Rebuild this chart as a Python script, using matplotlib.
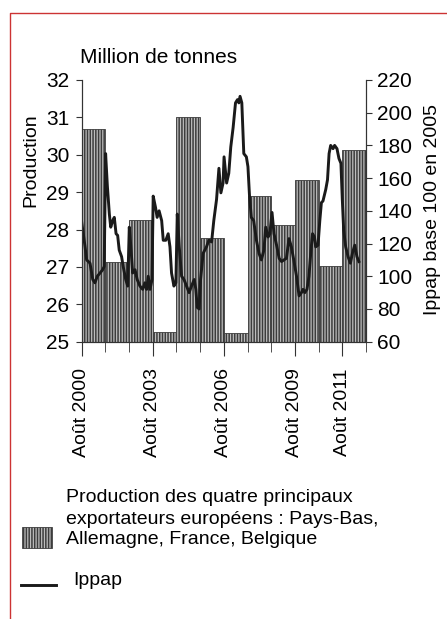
import matplotlib
matplotlib.use("Agg")
from matplotlib import pyplot as plt
from matplotlib.patches import Rectangle
from matplotlib.lines import Line2D

plt.rcParams['font.family'] = ['Liberation Sans', 'DejaVu Sans']
plt.rcParams['hatch.linewidth'] = 1.1

# production (million tonnes), one bar per campaign Aug-Aug, 2000/01 .. 2011/12
production = [30.68, 27.13, 28.26, 25.26, 31.01, 27.78, 25.22, 28.90, 28.12, 29.33, 27.02, 30.14]

# Ippap index (base 100 in 2005), months since Aug 2000
ippap_month = [0, 1.7, 2.5, 4.2, 5.6, 6.7, 7.9, 9.3, 10.6, 11.4, 12.1, 13, 14, 14.7, 15.7, 16.5,
               17.4, 18.2, 19, 20.2, 21, 22.3, 23.3, 24.1, 24.9, 25.8, 27, 28.1, 29.5, 30.9, 32,
               32.9, 33.7, 34.6, 35.6, 36.2, 37.4, 38.2, 39.2, 40.5, 41.3, 42.6, 43.8, 44.7, 45.5,
               46.7, 47.7, 48.4, 49.4, 50.6, 51.8, 53.1, 54.4, 55.6, 57, 57.8, 58.5, 59.5, 60.2,
               61.5, 63.2, 64.4, 65.8, 66.9, 68.3, 69.5, 70.5, 71.6, 72.1, 73.4, 74.5, 75.5, 76.7,
               77.9, 78.9, 79.6, 80.2, 81.1, 82.1, 83.4, 84.2, 85.0, 85.9, 87.1, 88.5, 89.8, 91,
               92.3, 93.2, 94.4, 95.3, 96.4, 97.4, 98.7, 100, 101.2, 102.5, 103.7, 105, 106.2,
               107.4, 108.8, 110.1, 111.3, 112.1, 113, 114.1, 115.1, 116, 116.9, 117.9, 118.5,
               119.7, 120.6, 121.4, 122.2, 123.6, 124.5, 125.3, 126.1, 127.3, 128.1, 129.3, 130.3,
               131.3, 132, 132.7, 133.7, 134.9, 136.1, 137.1, 138.3, 139.4, 140.4]
ippap = [133, 118, 110, 108, 98, 96, 100, 102, 104, 106, 175, 155, 138, 130, 134, 136,
         126, 125, 116, 112, 106, 98, 94, 130, 118, 102, 104, 98, 94, 92, 96,
         92, 100, 92, 98, 149, 142, 136, 140, 134, 122, 122, 126, 118, 102,
         94, 96, 138, 118, 100, 98, 94, 90, 94, 98, 92, 81, 80, 98,
         114, 118, 122, 121, 134, 147, 166, 151, 157, 173, 157, 163, 179, 191,
         206, 208, 206, 210, 206, 175, 173, 167, 149, 136, 134, 122, 114, 110,
         116, 130, 124, 126, 139, 126, 119, 111, 109, 110, 111, 123, 118,
         110, 100, 88, 90, 92, 90, 92, 100, 114, 126, 124, 118,
         119, 134, 145, 146, 153, 159, 175, 180, 178, 180, 178, 172,
         169, 147, 128, 118, 112, 108, 114, 119, 112, 109]

label_months = [0, 36, 72, 108, 132]
label_text = ["Août 2000", "Août 2003", "Août 2006", "Août 2009", "Août 2011"]

legend_lines = ["Production des quatre principaux",
                "exportateurs européens : Pays-Bas,",
                "Allemagne, France, Belgique"]

fig = plt.figure(figsize=(4.47, 6.19), dpi=100)
ax = fig.add_axes([0.1828, 0.448, 0.636, 0.4228])

bar_face = '#bdbdbd'
bar_hatch = '#3c3c3c'

starts = [12 * i for i in range(len(production))]
heights = [p - 25 for p in production]
ax.bar(starts, heights, width=12, bottom=25, align='edge', facecolor=bar_face,
       edgecolor=bar_hatch, hatch='||||||', linewidth=0.6)
ax.set_xlim(0, 144)
ax.set_ylim(25, 32)
ax.set_yticks(range(25, 33))

ax2 = ax.twinx()
ax2.plot(ippap_month, ippap, color='#1a1a1a', linewidth=2.1)
ax2.set_ylim(60, 220)
ax2.set_yticks(range(60, 221, 20))

ax.set_xticks(label_months)
ax.set_xticklabels(label_text, rotation=90, fontsize=14)
ax.set_xticks(range(0, 145, 12), minor=True)
ax.tick_params(axis='x', which='major', length=10, pad=9, color='#333333')
ax.tick_params(axis='x', which='minor', length=7, color='#333333')
ax.tick_params(axis='y', labelsize=15, length=4, pad=5, color='#333333')
ax2.tick_params(axis='y', labelsize=15, length=4, pad=4, color='#333333')

for a in (ax, ax2):
    a.spines['top'].set_visible(False)
    for s in ('left', 'right', 'bottom'):
        a.spines[s].set_color('#333333')
        a.spines[s].set_linewidth(0.8)

fig.text(0.179, 0.907, "Million de tonnes", fontsize=15, va='center', ha='left')
fig.text(0.069, 0.742, "Production", fontsize=14, rotation=90, va='center', ha='center')
fig.text(0.968, 0.661, "Ippap base 100 en 2005", fontsize=14, rotation=90, va='center', ha='center')

# legend
fig.patches.append(Rectangle((0.0486, 0.1147), 0.067, 0.0345, transform=fig.transFigure,
                             facecolor=bar_face, edgecolor=bar_hatch, hatch='||||||',
                             linewidth=0.6))
for txt, yy in zip(legend_lines, [0.197, 0.160, 0.129]):
    fig.text(0.148, yy, txt, fontsize=14, va='center', ha='left')
fig.lines.append(Line2D([0.047, 0.125], [0.055, 0.055], transform=fig.transFigure,
                        color='#1a1a1a', linewidth=2.1))
fig.text(0.163, 0.063, "Ippap", fontsize=14, va='center', ha='left')

# red frame of the source page
fig.lines.append(Line2D([0.023, 0.023, 1.0], [0.0, 0.979, 0.979], transform=fig.transFigure,
                        color='#cc3333', linewidth=1.0))

fig.savefig("out.png", dpi=100)
